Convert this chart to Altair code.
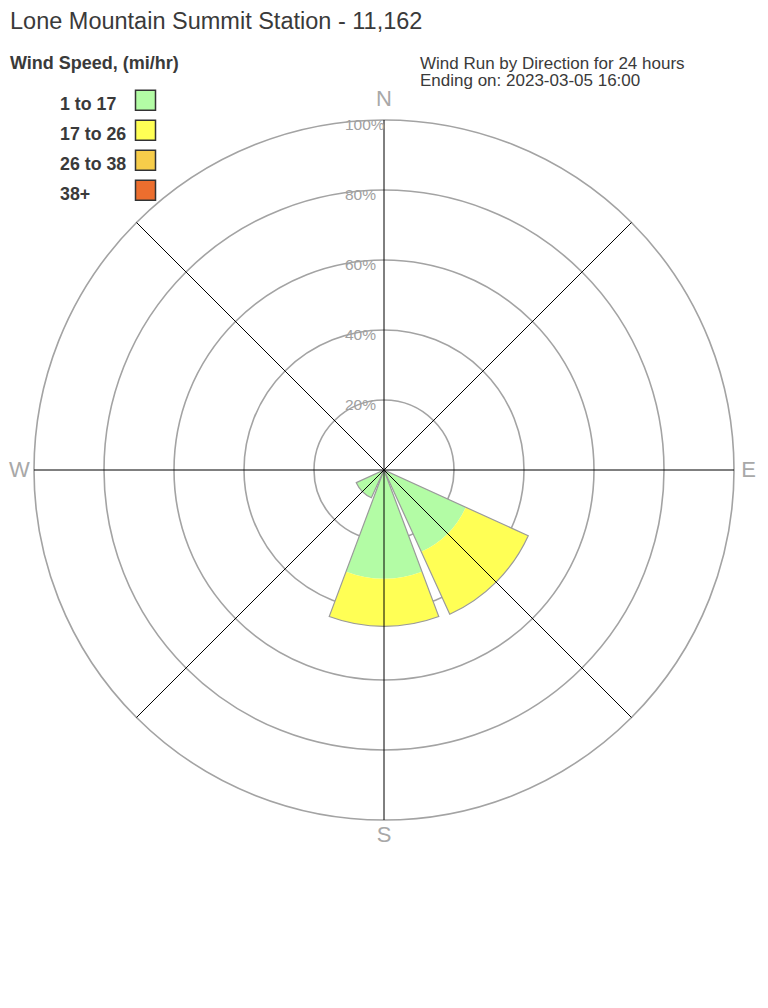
import math
import altair as alt
import pandas as pd

# ---- data ----
dir_names = ["N", "NE", "E", "SE", "S", "SW", "W", "NW"]
dir_deg = [0, 45, 90, 135, 180, 225, 270, 315]
speed_classes = ["1 to 17", "17 to 26", "26 to 38", "38+"]
speed_colors = ["#b3fca5", "#ffff55", "#f7cd4a", "#ec6e2e"]
# percent of wind run per direction for each speed class
pct_1_17 = [0, 0, 0, 25.7, 31.0, 8.7, 0, 0]
pct_17_26 = [0, 0, 0, 19.6, 13.7, 0, 0, 0]
pct_26_38 = [0, 0, 0, 0, 0, 0, 0, 0]
pct_38p = [0, 0, 0, 0, 0, 0, 0, 0]
ring_values = [20, 40, 60, 80, 100]
compass_labels = ["N", "E", "S", "W"]
compass_deg = [0, 90, 180, 270]

title_text = "Lone Mountain Summit Station - 11,162"
legend_title = "Wind Speed, (mi/hr)"
info_lines = ["Wind Run by Direction for 24 hours", "Ending on: 2023-03-05 16:00"]

FONT = "Liberation Sans"
HALF = 20.5  # half angular width of each sector (deg)

# ---- build tables ----
series = [pct_1_17, pct_17_26, pct_26_38, pct_38p]
seg_rows, tot_rows = [], []
for i, (nm, d) in enumerate(zip(dir_names, dir_deg)):
    cum = 0.0
    for k, cls in enumerate(speed_classes):
        v = series[k][i]
        if v > 0:
            seg_rows.append(dict(dir=nm, deg=d, speed=cls, r0=cum, r1=cum + v))
            cum += v
    if cum > 0:
        tot_rows.append(dict(dir=nm, deg=d, total=cum))
segs = pd.DataFrame(seg_rows)
tots = pd.DataFrame(tot_rows)
rings = pd.DataFrame(dict(ring=ring_values))
spokes = pd.DataFrame(dict(deg=dir_deg))
compass = pd.DataFrame(dict(lab=compass_labels, deg=compass_deg))
legend_df = pd.DataFrame(dict(speed=speed_classes, idx=list(range(len(speed_classes)))))

W, H = 752, 924
PX_PER_PCT = 3.5
theta_scale = alt.Scale(domain=[0, 360], range=[0, 2 * math.pi])
radius_scale = alt.Scale(type="linear", domain=[0, 100], range=[0, 100 * PX_PER_PCT], zero=True)
xs = alt.Scale(domain=[-W / 2 / PX_PER_PCT, W / 2 / PX_PER_PCT], nice=False, zero=False)
ys = alt.Scale(domain=[-H / 2 / PX_PER_PCT, H / 2 / PX_PER_PCT], nice=False, zero=False)
color_scale = alt.Scale(domain=speed_classes, range=speed_colors)

ring_layer = alt.Chart(rings).transform_calculate(t0="0", t1="360").mark_arc(
    filled=False, fillOpacity=0, stroke="#a3a3a3", strokeWidth=1.6
).encode(
    theta=alt.Theta("t0:Q", scale=theta_scale),
    theta2="t1:Q",
    radius=alt.Radius("ring:Q", scale=radius_scale),
)

seg_layer = alt.Chart(segs).transform_calculate(
    t0=f"datum.deg - {HALF}", t1=f"datum.deg + {HALF}"
).mark_arc(strokeWidth=0).encode(
    theta=alt.Theta("t0:Q", scale=theta_scale),
    theta2="t1:Q",
    radius=alt.Radius("r1:Q", scale=radius_scale),
    radius2="r0:Q",
    fill=alt.Fill("speed:N", scale=color_scale, legend=None),
)

outline_layer = alt.Chart(tots).transform_calculate(
    t0=f"datum.deg - {HALF}", t1=f"datum.deg + {HALF}", z="0"
).mark_arc(filled=False, fillOpacity=0, stroke="#9a9a9a", strokeWidth=1.2).encode(
    theta=alt.Theta("t0:Q", scale=theta_scale),
    theta2="t1:Q",
    radius=alt.Radius("total:Q", scale=radius_scale),
    radius2="z:Q",
)

spoke_layer = alt.Chart(spokes).transform_calculate(
    x0="0", y0="0",
    x1="100 * sin(datum.deg * PI / 180)",
    y1="100 * cos(datum.deg * PI / 180)",
).mark_rule(color="black", strokeWidth=1).encode(
    x=alt.X("x0:Q", scale=xs, axis=None),
    y=alt.Y("y0:Q", scale=ys, axis=None),
    x2="x1:Q",
    y2="y1:Q",
)

ring_label_layer = alt.Chart(rings).transform_calculate(
    t0="0", lab="datum.ring + '%'"
).mark_text(
    align="left", baseline="middle", dx=-39, dy=4.5, fontSize=15.5, font=FONT, color="#a0a0a0"
).encode(
    theta=alt.Theta("t0:Q", scale=theta_scale),
    radius=alt.Radius("ring:Q", scale=radius_scale),
    text="lab:N",
)

compass_base = alt.Chart(compass).transform_calculate(rad="104.2")
compass_n = compass_base.transform_filter("datum.deg == 0").mark_text(
    align="center", baseline="middle", fontSize=22, font=FONT, color="#a8a8a8", dy=-6
).encode(
    theta=alt.Theta("deg:Q", scale=theta_scale),
    radius=alt.Radius("rad:Q", scale=radius_scale),
    text="lab:N",
)
compass_o = compass_base.transform_filter("datum.deg != 0").mark_text(
    align="center", baseline="middle", fontSize=22, font=FONT, color="#a8a8a8"
).encode(
    theta=alt.Theta("deg:Q", scale=theta_scale),
    radius=alt.Radius("rad:Q", scale=radius_scale),
    text="lab:N",
)

title_layer = alt.Chart(pd.DataFrame(dict(t=[title_text]))).mark_text(
    align="left", baseline="alphabetic", fontSize=23.5, font=FONT, color="#3a3a3a"
).encode(x=alt.value(2), y=alt.value(21), text="t:N")

legend_title_layer = alt.Chart(pd.DataFrame(dict(t=[legend_title]))).mark_text(
    align="left", baseline="alphabetic", fontSize=18, fontWeight="bold", font=FONT, color="#3a3a3a"
).encode(x=alt.value(2), y=alt.value(61), text="t:N")

info_layer = alt.Chart(pd.DataFrame(dict(t=info_lines, i=[0, 1]))).transform_calculate(
    py="60.5 + datum.i * 17.5"
).mark_text(
    align="left", baseline="alphabetic", fontSize=17, font=FONT, color="#3a3a3a"
).encode(x=alt.value(412), y=alt.Y("py:Q", scale=None, axis=None), text="t:N")

legend_text = alt.Chart(legend_df).transform_calculate(
    py="102 + datum.idx * 30"
).mark_text(
    align="left", baseline="alphabetic", fontSize=17.8, fontWeight="bold", font=FONT, color="#3a3a3a"
).encode(x=alt.value(52), y=alt.Y("py:Q", scale=None, axis=None), text="speed:N")

legend_sq = alt.Chart(legend_df).transform_calculate(
    py="92.3 + datum.idx * 30"
).mark_square(size=400, opacity=1, stroke="#333333", strokeWidth=1.5).encode(
    x=alt.value(137.5),
    y=alt.Y("py:Q", scale=None, axis=None),
    fill=alt.Fill("speed:N", scale=color_scale, legend=None),
)

chart = alt.layer(
    ring_layer, seg_layer, outline_layer, spoke_layer, ring_label_layer,
    compass_n, compass_o, title_layer, legend_title_layer, info_layer,
    legend_text, legend_sq,
).properties(width=W, height=H, padding=0, background="white").configure_view(
    strokeWidth=0
)

chart.save("out.html", embed_options={"renderer": "svg", "actions": False})
